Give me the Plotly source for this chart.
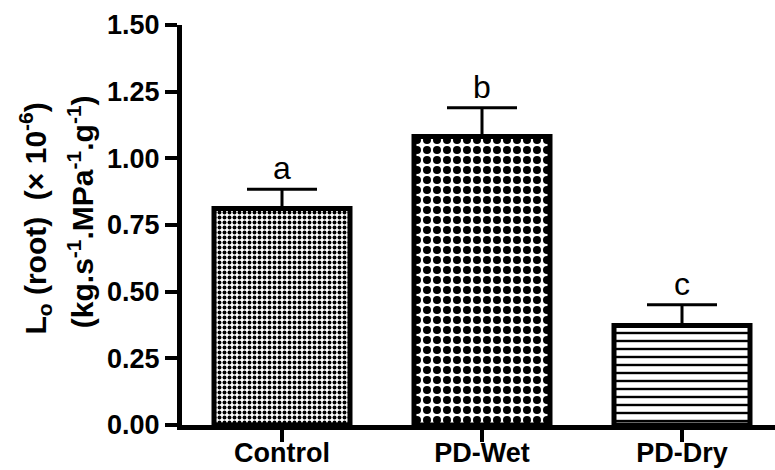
import plotly.graph_objects as go

categories = ["Control", "PD-Wet", "PD-Dry"]
values = [0.812, 1.082, 0.373]
errors = [0.072, 0.108, 0.078]
letters = ["a", "b", "c"]
pattern_shapes = [".", ".", "-"]
pattern_sizes = [5, 10, 8]
pattern_solidity = [0.5, 0.5, 0.3]

FONT = "Arial, Liberation Sans, sans-serif"

fig = go.Figure()
fig.add_trace(go.Bar(
    x=categories,
    y=values,
    width=0.68,
    marker=dict(
        color="white",
        line=dict(color="black", width=5),
        pattern=dict(shape=pattern_shapes, size=pattern_sizes,
                     solidity=pattern_solidity, fgcolor="black",
                     bgcolor="white", fillmode="replace"),
    ),
    error_y=dict(type="data", array=errors, arrayminus=[0] * len(errors),
                 symmetric=False, color="black", thickness=3, width=35),
    showlegend=False,
))

for c, v, e, t in zip(categories, values, errors, letters):
    fig.add_annotation(x=c, y=v + e, text=t, showarrow=False,
                       yanchor="bottom", yshift=1,
                       font=dict(family=FONT, size=32, color="black"))

fig.add_annotation(xref="paper", yref="paper", x=0, y=0.516, xshift=-147,
                   text="L<sub>o</sub>\u00a0(root)\u00a0\u00a0(×\u00a010<sup>-6</sup>)",
                   textangle=-90, showarrow=False, xanchor="center", yanchor="middle",
                   font=dict(family=FONT, size=30, color="black", weight="bold"))
fig.add_annotation(xref="paper", yref="paper", x=0, y=0.532, xshift=-101,
                   text="(kg.s<sup>-1</sup>.MPa<sup>-1</sup>.g<sup>-1</sup>)",
                   textangle=-90, showarrow=False, xanchor="center", yanchor="middle",
                   font=dict(family=FONT, size=30, color="black", weight="bold"))

fig.update_layout(
    width=775, height=470,
    margin=dict(l=182, r=0, t=25, b=45),
    paper_bgcolor="white", plot_bgcolor="white",
    font=dict(family=FONT, color="black"),
    xaxis=dict(range=[-0.5, 2.465], showline=True, linewidth=5, linecolor="black",
               ticks="outside", ticklen=12, tickwidth=4, tickcolor="black",
               showgrid=False, zeroline=False, automargin=False,
               ticklabelstandoff=-12,
               tickfont=dict(family=FONT, size=27, color="black", weight="bold")),
    yaxis=dict(range=[0, 1.5], dtick=0.25, tickformat=".2f", showline=True,
               linewidth=5, linecolor="black", ticks="outside", ticklen=12,
               tickwidth=4, tickcolor="black", showgrid=False, zeroline=False,
               automargin=False,
               tickfont=dict(family=FONT, size=27, color="black", weight="bold")),
)

fig.write_html("out.html")
